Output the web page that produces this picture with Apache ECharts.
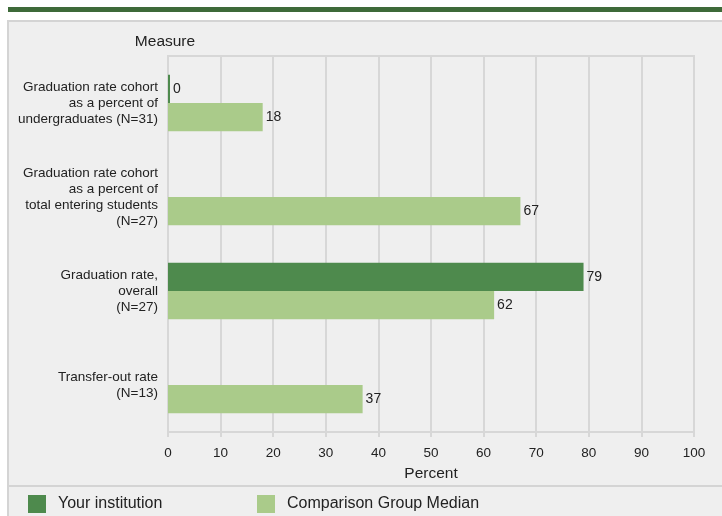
<!DOCTYPE html>
<html>
<head>
<meta charset="utf-8">
<script src="https://cdn.jsdelivr.net/npm/echarts@6/dist/echarts.min.js"></script>
<style>
html,body{margin:0;padding:0;background:#fff;}
#c{width:722px;height:516px;}
</style>
</head>
<body>
<div id="c"></div>
<script>
const categories = [
  'Graduation rate cohort\nas a percent of\nundergraduates (N=31)',
  'Graduation rate cohort\nas a percent of\ntotal entering students\n(N=27)',
  'Graduation rate,\noverall\n(N=27)',
  'Transfer-out rate\n(N=13)'
];
const institutionValues = [0, null, 79, null];
const comparisonValues = [18, 67, 62, 37];
const xTicks = [0, 10, 20, 30, 40, 50, 60, 70, 80, 90, 100];
const seriesNames = ['Your institution', 'Comparison Group Median'];

const FONT = "'Liberation Sans', Arial, sans-serif";
const TXT = '#222';
const GRID = '#d7d7d7';

const chart = echarts.init(document.getElementById('c'), null, {renderer: 'canvas'});
chart.setOption({
  animation: false,
  backgroundColor: '#ffffff',
  textStyle: {fontFamily: FONT},
  graphic: [
    {type: 'rect', z: -10, shape: {x: 8, y: 7, width: 720, height: 5}, style: {fill: '#3e6a39'}},
    {type: 'rect', z: -10, shape: {x: 8, y: 21, width: 720, height: 500}, style: {fill: '#efefef', stroke: '#d4d4d4', lineWidth: 2}},
    {type: 'line', z: -9, shape: {x1: 8, y1: 486, x2: 722, y2: 486}, style: {stroke: '#d4d4d4', lineWidth: 2}}
  ],
  legend: [
    {
      data: [seriesNames[0]], left: 28, top: 495, padding: 0,
      itemWidth: 18, itemHeight: 18, icon: 'rect',
      textStyle: {fontSize: 16, color: TXT, fontFamily: FONT, padding: [0, 0, 0, 7]}
    },
    {
      data: [seriesNames[1]], left: 257, top: 495, padding: 0,
      itemWidth: 18, itemHeight: 18, icon: 'rect',
      textStyle: {fontSize: 16, color: TXT, fontFamily: FONT, padding: [0, 0, 0, 7]}
    }
  ],
  grid: {
    left: 168, right: 28, top: 56, bottom: 84,
    show: true, borderColor: GRID, borderWidth: 2, backgroundColor: 'transparent'
  },
  xAxis: {
    type: 'value', min: 0, max: 100, interval: 10,
    name: 'Percent', nameLocation: 'middle', nameGap: 34,
    nameTextStyle: {fontSize: 15.5, color: TXT, fontFamily: FONT},
    axisLine: {show: true, lineStyle: {color: GRID, width: 2}},
    axisTick: {show: true, length: 5, lineStyle: {color: GRID, width: 2}},
    axisLabel: {fontSize: 13.5, color: TXT, margin: 14, fontFamily: FONT,
      formatter: v => xTicks.includes(v) ? String(v) : ''},
    splitLine: {show: true, lineStyle: {color: GRID, width: 2}}
  },
  yAxis: {
    type: 'category', data: categories, inverse: true,
    name: 'Measure', nameLocation: 'start', nameGap: 6,
    nameTextStyle: {fontSize: 15.5, color: TXT, fontFamily: FONT, align: 'center', padding: [0, 6, 0, 0]},
    axisLine: {show: true, lineStyle: {color: GRID, width: 2}},
    axisTick: {show: false},
    axisLabel: {fontSize: 13.5, lineHeight: 16, color: TXT, margin: 10, align: 'right', fontFamily: FONT, padding: [3, 0, 0, 0]},
    splitLine: {show: false}
  },
  series: [
    {
      name: seriesNames[0], type: 'bar', data: institutionValues,
      barGap: '0%', barCategoryGap: '40%', barMinHeight: 2,
      itemStyle: {color: '#4e8a4d'},
      label: {show: true, position: 'right', distance: 3, fontSize: 14, color: TXT, fontFamily: FONT}
    },
    {
      name: seriesNames[1], type: 'bar', data: comparisonValues,
      barGap: '0%', barCategoryGap: '40%',
      itemStyle: {color: '#aacb8a'},
      label: {show: true, position: 'right', distance: 3, fontSize: 14, color: TXT, fontFamily: FONT}
    }
  ]
});
</script>
</body>
</html>
